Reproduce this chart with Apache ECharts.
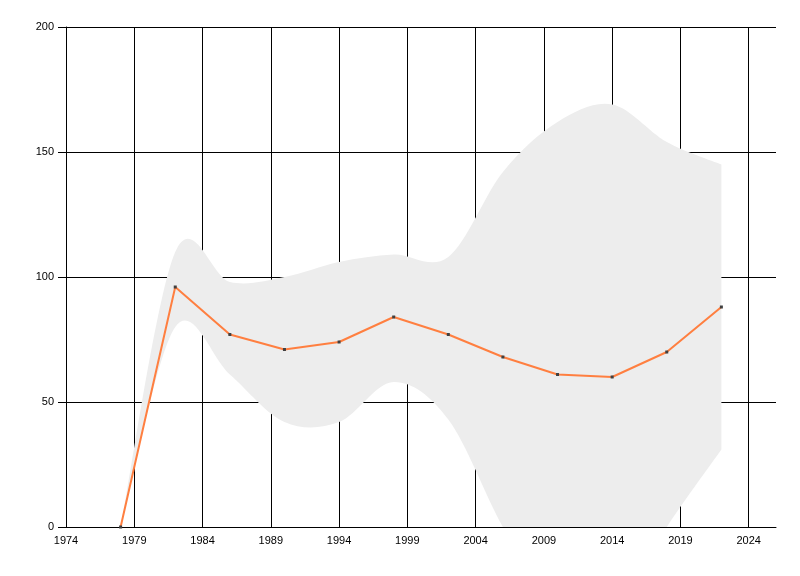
<!DOCTYPE html>
<html>
<head>
<meta charset="utf-8">
<script src="https://cdn.jsdelivr.net/npm/echarts@6/dist/echarts.min.js"></script>
<style>html,body{margin:0;padding:0;background:#fff}#c{width:800px;height:576px}</style>
</head>
<body>
<div id="c"></div>
<script>
var years = [1978, 1982, 1986, 1990, 1994, 1998, 2002, 2006, 2010, 2014, 2018, 2022];
var values = [0, 96, 77, 71, 74, 84, 77, 68, 61, 60, 70, 88];
var upper = [0, 110, 98, 100, 106, 109, 108, 142, 162, 169, 154, 145];
var lower = [0, 80, 61, 42, 42, 58, 43, 0, -35, -35, 0, 31];
var xTicks = [1974, 1979, 1984, 1989, 1994, 1999, 2004, 2009, 2014, 2019, 2024];

var TENSION = 0.5;
var chart = echarts.init(document.getElementById('c'), null, {renderer: 'canvas'});
var font = 'Liberation Sans';
var bandData = years.map(function (y, i) { return [y, lower[i], upper[i]]; });
var lineData = years.map(function (y, i) { return [y, values[i]]; });

function splinePath(pts, startCmd) {
  // cardinal spline through pixel points
  var s = startCmd + pts[0][0] + ' ' + pts[0][1];
  var n = pts.length;
  for (var i = 0; i < n - 1; i++) {
    var p0 = pts[i > 0 ? i - 1 : i], p1 = pts[i], p2 = pts[i + 1], p3 = pts[i + 2 < n ? i + 2 : i + 1];
    var k = TENSION / 3;
    var c1x = p1[0] + (p2[0] - p0[0]) * k, c1y = p1[1] + (p2[1] - p0[1]) * k;
    var c2x = p2[0] - (p3[0] - p1[0]) * k, c2y = p2[1] - (p3[1] - p1[1]) * k;
    s += ' C' + c1x + ' ' + c1y + ' ' + c2x + ' ' + c2y + ' ' + p2[0] + ' ' + p2[1];
  }
  return s;
}

function renderBand(params, api) {
  if (params.dataIndex !== 0) return null;
  var up = [], lo = [];
  for (var i = 0; i < years.length; i++) {
    up.push(api.coord([years[i], upper[i]]));
    lo.push(api.coord([years[i], lower[i]]));
  }
  var d = splinePath(up, 'M') + ' ' + splinePath(lo.slice().reverse(), 'L') + ' Z';
  var cs = params.coordSys;
  return {
    type: 'group',
    clipPath: {type: 'rect', shape: {x: cs.x, y: cs.y, width: cs.width, height: cs.height}},
    children: [{
      type: 'path',
      shape: {pathData: d},
      style: {fill: '#ededed', stroke: null}
    }]
  };
}

chart.setOption({
  animation: false,
  backgroundColor: '#ffffff',
  grid: {left: 66, right: 24, top: 27, bottom: 49, containLabel: false},
  xAxis: {
    type: 'value', min: 1974, max: 2026, interval: 5,
    axisLine: {show: true, onZero: false, lineStyle: {color: '#000', width: 1}},
    axisTick: {show: false, customValues: xTicks},
    splitLine: {show: true, customValues: xTicks, lineStyle: {color: '#000', width: 1}},
    axisLabel: {customValues: xTicks, color: '#000', fontFamily: font, fontSize: 11, margin: 8,
      formatter: function (v) { return String(v); }}
  },
  yAxis: {
    type: 'value', min: 0, max: 200, interval: 50,
    axisLine: {show: true, lineStyle: {color: '#000', width: 1}},
    axisTick: {show: true, length: 8, lineStyle: {color: '#000', width: 1}},
    splitLine: {show: true, lineStyle: {color: '#000', width: 1}},
    axisLabel: {color: '#000', fontFamily: font, fontSize: 11, margin: 12}
  },
  series: [
    {type: 'custom', data: bandData, renderItem: renderBand, silent: true, z: 2,
     encode: {x: 0, y: [1, 2]}},
    {type: 'line', data: lineData, smooth: false, symbol: 'rect', symbolSize: 3, showAllSymbol: true,
     lineStyle: {color: '#ff7f40', width: 2}, itemStyle: {color: '#404040', borderWidth: 0}, z: 3}
  ]
});
</script>
</body>
</html>
